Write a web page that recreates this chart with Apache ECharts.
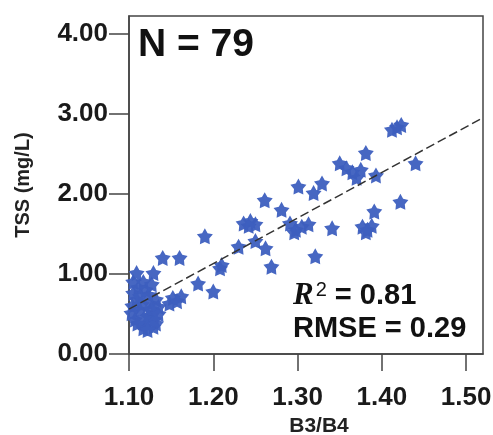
<!DOCTYPE html>
<html>
<head>
<meta charset="utf-8">
<script src="https://cdn.jsdelivr.net/npm/echarts@6/dist/echarts.min.js"></script>
<style>
	html, body { margin: 0; padding: 0; background: #fff; }
	#chart { width: 493px; height: 435px; }
</style>
</head>
<body>
<div id="chart"></div>
<script>
// tick values
var xTicks = [1.10, 1.20, 1.30, 1.40, 1.50];
var yTicks = [0, 1, 2, 3, 4];

var ratio = [
	1.412, 1.418, 1.423, 1.440, 1.381, 1.350, 1.358, 1.365, 1.370, 1.375,
	1.393, 1.301, 1.319, 1.329, 1.261, 1.281, 1.391, 1.422, 1.236, 1.244,
	1.250, 1.242, 1.190, 1.291, 1.298, 1.305, 1.313, 1.296, 1.341, 1.377,
	1.383, 1.388, 1.381, 1.250, 1.262, 1.230, 1.269, 1.321, 1.210, 1.208,
	1.140, 1.160, 1.182, 1.200, 1.152, 1.162, 1.148, 1.157, 1.109, 1.129,
	1.117, 1.120, 1.109, 1.125, 1.113, 1.129, 1.107, 1.120, 1.129, 1.117,
	1.132, 1.105, 1.103, 1.123, 1.130, 1.111, 1.123, 1.135, 1.115, 1.104,
	1.126, 1.118, 1.110, 1.132, 1.113, 1.127, 1.105, 1.122, 1.135
];
var tss = [
	2.80, 2.83, 2.86, 2.38, 2.51, 2.38, 2.32, 2.27, 2.20, 2.30,
	2.23, 2.09, 2.01, 2.13, 1.92, 1.80, 1.78, 1.90, 1.63, 1.66,
	1.62, 1.60, 1.47, 1.63, 1.55, 1.59, 1.62, 1.52, 1.57, 1.59,
	1.55, 1.60, 1.52, 1.41, 1.32, 1.34, 1.09, 1.22, 1.11, 1.07,
	1.20, 1.20, 0.88, 0.78, 0.70, 0.72, 0.63, 0.66, 1.01, 1.01,
	0.90, 0.80, 0.68, 0.63, 0.55, 0.51, 0.43, 0.38, 0.34, 0.32,
	0.68, 0.76, 0.51, 0.47, 0.43, 0.83, 0.74, 0.59, 0.62, 0.60,
	0.56, 0.45, 0.38, 0.38, 0.72, 0.87, 0.90, 0.30, 0.50
];

// fitted line end points
var fitLine = [[1.10, 0.56], [1.52, 2.95]];

// fat 5 point star
var STAR = 'path://M50,0 L66.2,27.7 L97.55,34.55 L76.2,58.5 L79.39,90.45 L50,77.5 L20.61,90.45 L23.8,58.5 L2.45,34.55 L33.8,27.7 Z';
var FONT = 'Liberation Sans';
var AXIS_COLOR = '#444';

var points = [];
for (var i = 0; i < ratio.length; i++) {
	points.push([ratio[i], tss[i]]);
}

var chart = echarts.init(document.getElementById('chart'));
var option = {
	animation: false,
	grid: {
		left: 129, right: 10, top: 16, bottom: 81,
		outerBoundsMode: 'none',
		show: true, borderColor: AXIS_COLOR, borderWidth: 1.5, backgroundColor: 'transparent'
	},
	xAxis: {
		type: 'value',
		min: 1.10,
		max: 1.52,
		name: 'B3/B4',
		nameLocation: 'middle',
		nameGap: 62,
		nameTextStyle: { fontFamily: FONT, fontWeight: 'bold', fontSize: 21, color: '#222', padding: [0, 0, 0, 26] },
		axisLine: { lineStyle: { color: AXIS_COLOR, width: 1.5 } },
		axisTick: { customValues: xTicks, length: 17, lineStyle: { color: AXIS_COLOR, width: 1.5 } },
		axisLabel: {
			customValues: xTicks, margin: 31,
			fontFamily: FONT, fontWeight: 'bold', fontSize: 26, color: '#1a1a1a',
			formatter: function(v){ return v.toFixed(2); }
		},
		splitLine: { show: false }
	},
	yAxis: {
		type: 'value',
		min: 0,
		max: 4.22,
		name: 'TSS (mg/L)',
		nameLocation: 'middle',
		nameRotate: 90,
		nameGap: 96,
		nameTextStyle: { fontFamily: FONT, fontWeight: 'bold', fontSize: 20, color: '#222' },
		axisLine: { show: true, lineStyle: { color: AXIS_COLOR, width: 1.5 } },
		axisTick: { show: true, customValues: yTicks, length: 20, lineStyle: { color: AXIS_COLOR, width: 1.5 } },
		axisLabel: {
			customValues: yTicks, margin: 21,
			fontFamily: FONT, fontWeight: 'bold', fontSize: 26, color: '#1a1a1a',
			formatter: function(v){ return v.toFixed(2); }
		},
		splitLine: { show: false }
	},
	graphic: [
		{
			type: 'text', x: 138, y: 45, z: 10,
			style: { text: 'N = 79', fontFamily: FONT, fontWeight: 'bold', fontSize: 39, fill: '#111', verticalAlign: 'middle' }
		},
		{
			type: 'text', x: 293, y: 296, z: 10,
			style: {
				text: '{r|R}{s|2}{n| = 0.81}',
				verticalAlign: 'middle',
				rich: {
					r: { fontFamily: 'Liberation Serif', fontStyle: 'italic', fontWeight: 'bold', fontSize: 31, fill: '#111' },
					s: { fontFamily: FONT, fontSize: 20, fill: '#111', verticalAlign: 'top', padding: [0, 0, 0, 2] },
					n: { fontFamily: FONT, fontWeight: 'bold', fontSize: 29, fill: '#111' }
				}
			}
		},
		{
			type: 'text', x: 293, y: 329, z: 10,
			style: { text: 'RMSE = 0.29', fontFamily: FONT, fontWeight: 'bold', fontSize: 29, fill: '#111', verticalAlign: 'middle' }
		}
	],
	series: [
		{
			type: 'scatter',
			data: points,
			symbol: STAR,
			symbolSize: 16,
			itemStyle: { color: '#3d5fbf', opacity: 0.95 },
			z: 2
		},
		{
			type: 'line',
			data: fitLine,
			symbol: 'none',
			lineStyle: { color: '#333', width: 1.5, type: [9, 4] },
			z: 3
		}
	]
};
chart.setOption(option);
</script>
</body>
</html>
